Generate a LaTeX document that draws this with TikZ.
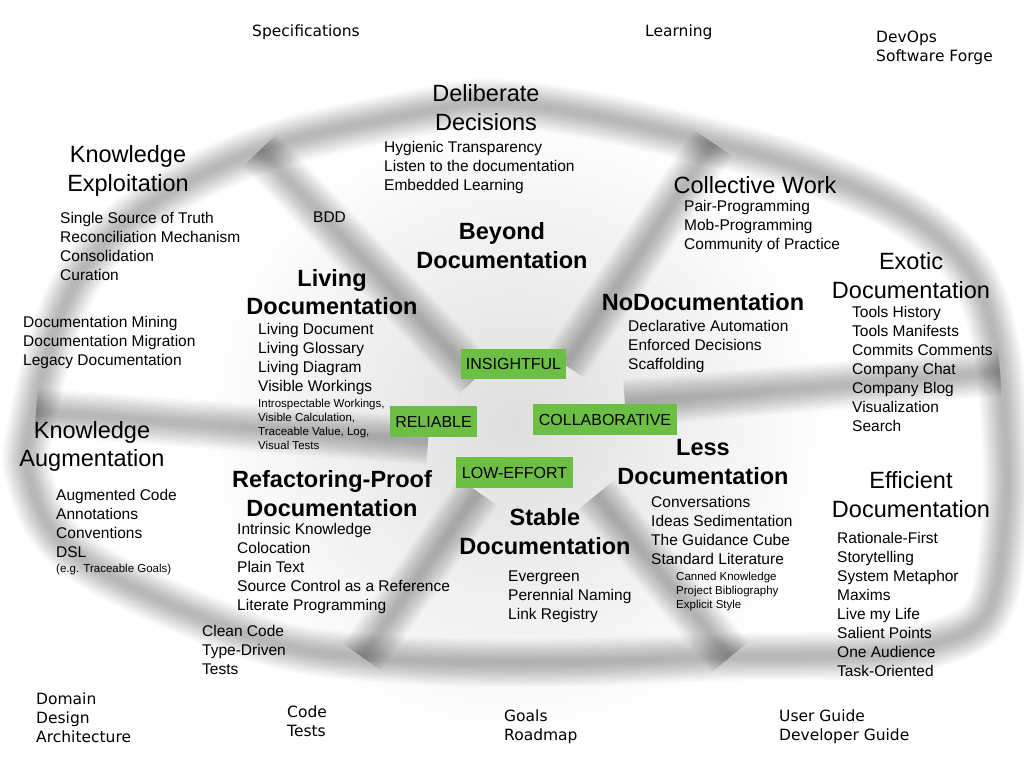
\documentclass[tikz,border=0pt]{standalone}
\usepackage{fontspec}
\setmainfont{Liberation Sans}
\newfontfamily\outerfont{DejaVu Sans}
\definecolor{boxgreen}{RGB}{109,190,69}
\tikzset{
  item/.style={font=\fontsize{15.5}{19}\selectfont, inner sep=0pt},
  smallitem/.style={font=\fontsize{11.5}{14}\selectfont, inner sep=0pt},
  head/.style={font=\fontsize{23.5}{29}\selectfont, inner sep=0pt},
  bhead/.style={font=\bfseries\fontsize{23.5}{29}\selectfont, inner sep=0pt},
  outerlbl/.style={font=\outerfont\fontsize{15.5}{19}\selectfont, inner sep=0pt},
  tag/.style={fill=boxgreen, font=\fontsize{16}{19}\selectfont, inner sep=0pt, minimum height=31pt},
}
\newcommand\leftlines[6]{\foreach \t [count=\i from 0] in {#6} {\node[#1, anchor=base west] (#2\i) at ({#3},{#4+#5*\i}) {\t};}}
\newcommand\midlines[6]{\foreach \t [count=\i from 0] in {#6} {\node[#1, anchor=base] (#2\i) at ({#3},{#4+#5*\i}) {\t};}}
\newcommand\blurline[2]{\foreach \w in {48,45,...,6} {\draw[line width=\w pt, draw=black, draw opacity=0.02, line cap=#1, line join=round] #2;}}
\begin{document}
\begin{tikzpicture}[x=1pt,y=-1pt]
\useasboundingbox (0,0) rectangle (1024,768);
\fill[white] (0,0) rectangle (1024,768);
% background shading of the wheel
\shade[inner color=black!13, outer color=white] (515,425) circle (320);
% ring
\blurline{round}{plot[smooth cycle, tension=0.6] coordinates {(30,430) (67,300) (133,217) (260,150) (433,110) (500,103) (600,117) (713,143) (800,167) (900,210) (967,267) (995,340) (1005,430) (1005,520) (987,613) (930,645) (855,655) (730,657) (526,663) (362,657) (263,640) (132,587) (60,540) (30,480)}}
% spokes
\coordinate (s1a) at (260,150); \coordinate (s1b) at (476,378);
\coordinate (s2a) at (713,143); \coordinate (s2b) at (565,365);
\coordinate (s3a) at (36,412);  \coordinate (s3b) at (428,441);
\coordinate (s4a) at (625,403); \coordinate (s4b) at (1000,372);
\coordinate (s5a) at (478,492); \coordinate (s5b) at (362,657);
\coordinate (s6a) at (596,495); \coordinate (s6b) at (730,657);
\blurline{butt}{(s1a) -- (s1b)}
\blurline{butt}{(s2a) -- (s2b)}
\blurline{butt}{(s3a) -- (s3b)}
\blurline{butt}{(s4a) -- (s4b)}
\blurline{butt}{(s5a) -- (s5b)}
\blurline{butt}{(s6a) -- (s6b)}
% outer labels
\leftlines{outerlbl}{spec}{252}{37}{19}{Specifications}
\leftlines{outerlbl}{learn}{645}{37}{19}{Learning}
\leftlines{outerlbl}{devops}{876}{43}{19}{DevOps,Software Forge}
\leftlines{outerlbl}{domain}{36}{704}{19}{Domain,Design,Architecture}
\leftlines{outerlbl}{code}{287}{717}{19}{Code,Tests}
\leftlines{outerlbl}{goals}{504}{721}{19}{Goals,Roadmap}
\leftlines{outerlbl}{guide}{779}{721}{19}{User Guide,Developer Guide}
% regular headings
\midlines{head}{delib}{486}{101}{29}{Deliberate,Decisions}
\midlines{head}{kexp}{128}{162}{29}{Knowledge,Exploitation}
\midlines{head}{coll}{755}{193}{29}{Collective Work}
\midlines{head}{exotic}{911}{269}{29}{Exotic,Documentation}
\midlines{head}{kaug}{92}{438}{28}{Knowledge,Augmentation}
\midlines{head}{effic}{911}{488}{29}{Efficient,Documentation}
% bold headings
\midlines{bhead}{beyond}{502}{239}{29}{Beyond,Documentation}
\midlines{bhead}{living}{332}{286}{28}{Living,Documentation}
\midlines{bhead}{nodoc}{703}{310}{29}{NoDocumentation}
\midlines{bhead}{refac}{332}{487}{29}{Refactoring-Proof,Documentation}
\midlines{bhead}{less}{703}{455}{29}{Less,Documentation}
\midlines{bhead}{stable}{545}{525}{29}{Stable,Documentation}
% lists
\leftlines{item}{hyg}{384}{152.5}{19}{Hygienic Transparency,Listen to the documentation,Embedded Learning}
\leftlines{item}{ssot}{60}{223.5}{19}{Single Source of Truth,Reconciliation Mechanism,Consolidation,Curation}
\leftlines{item}{bdd}{313}{222.5}{19}{BDD}
\leftlines{item}{pair}{684}{211.5}{19}{Pair-Programming,Mob-Programming,Community of Practice}
\leftlines{item}{tools}{852}{317.5}{19}{Tools History,Tools Manifests,Commits Comments,Company Chat,Company Blog,Visualization,Search}
\leftlines{item}{livdoc}{258}{334.5}{19}{Living Document,Living Glossary,Living Diagram,Visible Workings}
\leftlines{item}{decl}{628}{331.5}{19}{Declarative Automation,Enforced Decisions,Scaffolding}
\leftlines{item}{mining}{23}{327.5}{19}{Documentation Mining,Documentation Migration,Legacy Documentation}
\leftlines{item}{aug}{56}{500.5}{19}{Augmented Code,Annotations,Conventions,DSL}
\leftlines{item}{intr}{237}{534.5}{19}{Intrinsic Knowledge,Colocation,Plain Text,Source Control as a Reference,Literate Programming}
\leftlines{item}{conv}{651}{507.5}{19}{Conversations,Ideas Sedimentation,The Guidance Cube,Standard Literature}
\leftlines{item}{ever}{508}{581.5}{19}{Evergreen,Perennial Naming,Link Registry}
\leftlines{item}{ratio}{837}{543.5}{19}{Rationale-First,Storytelling,System Metaphor,Maxims,Live my Life,Salient Points,One Audience,Task-Oriented}
\leftlines{item}{clean}{202}{636.5}{19}{Clean Code,Type-Driven,Tests}
% small lists
\leftlines{smallitem}{intro}{258}{407}{14}{{Introspectable Workings,},{Visible Calculation,},{Traceable Value, Log,},Visual Tests}
\leftlines{smallitem}{canned}{676}{580}{14}{Canned Knowledge,Project Bibliography,Explicit Style}
\leftlines{smallitem}{eg}{56}{572}{14}{(e.g. Traceable Goals)}
% green tags
\node[tag, minimum width=105pt, minimum height=30pt] (insight) at (513.5,364) {INSIGHTFUL};
\node[tag, minimum width=87pt] (reliable) at (433.5,421.5) {RELIABLE};
\node[tag, minimum width=144pt] (collab) at (605,419.5) {COLLABORATIVE};
\node[tag, minimum width=117pt] (loweff) at (514.5,472.5) {LOW-EFFORT};
\end{tikzpicture}
\end{document}
